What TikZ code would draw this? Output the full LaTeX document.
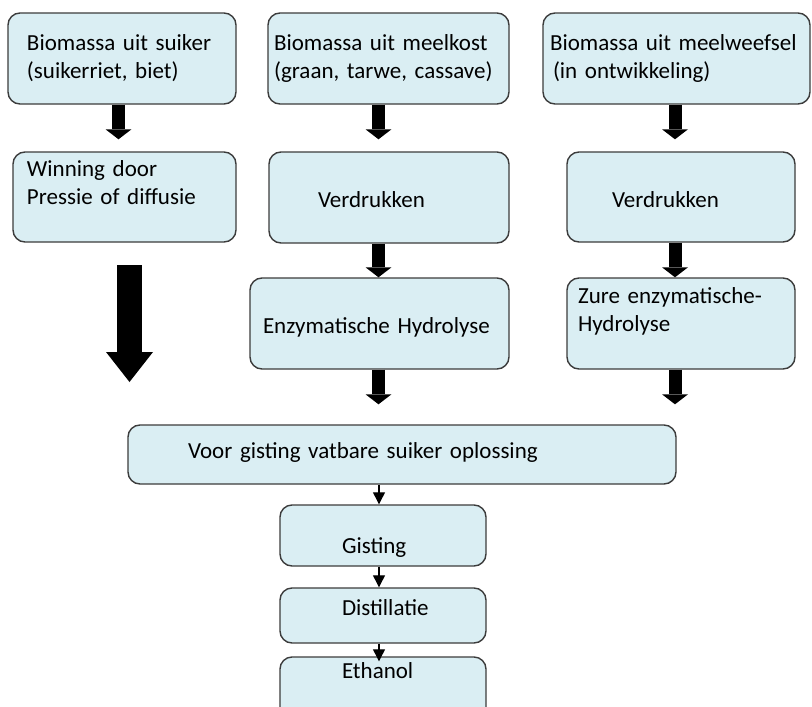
\documentclass[tikz,border=0pt]{standalone}
\usepackage{fontspec}
\setmainfont{Carlito}
\usepackage{xcolor}
\usetikzlibrary{arrows.meta, positioning}
\definecolor{boxfill}{HTML}{DAEEF3}
\definecolor{boxline}{HTML}{3C3C3C}
\newcommand{\boxfont}{\fontsize{23}{28}\selectfont}
\hyphenpenalty=10000
\exhyphenpenalty=10000

\begin{document}
\begin{tikzpicture}[x=1pt, y=-1pt,
            procbox/.style={ rectangle, draw=boxline, line width=1.4pt, fill=boxfill, rounded corners=12pt, align=left, inner ysep=0pt, font=\boxfont },
            blockarrow/.style={ line width=13pt, -{Triangle[length=10pt, width=26pt, line width=0pt]} },
            bigarrow/.style={ line width=25pt, -{Triangle[length=30pt, width=47pt, line width=0pt]} },
            thinarrow/.style={ line width=1.2pt, -{Triangle[length=12pt, width=12pt]} }
        ]
            \useasboundingbox (0,0) rectangle (812,707);

            % Column axes for the arrows
            \coordinate (col1) at (118.5,0);
            \coordinate (col2) at (378.5,0);
            \coordinate (col3) at (675,0);
            \coordinate (spine) at (379,0);

            % Sugar column
            \node (suiker) [procbox, minimum width=228pt, minimum height=91pt, text width=190pt, inner xsep=19pt] at (122,58.5) {Biomassa uit suiker\\(suikerriet, biet)};
            \node (winning) [procbox, minimum width=223pt, minimum height=90pt, text width=195pt, inner xsep=14pt] at (124.5,197) {Winning door\\Pressie of diffusie\\\mbox{}};

            % Starch column
            \node (meelkost) [procbox, minimum width=241pt, minimum height=91pt, text width=229pt, inner xsep=6pt] at (388.5,58.5) {Biomassa uit meelkost\\(graan, tarwe, cassave)};
            \node (verdrukA) [procbox, minimum width=240pt, minimum height=91pt, text width=142pt, inner xsep=49pt, text height=19pt, text depth=0pt] at (389,197.5) {Verdrukken};
            \node (enzym) [procbox, minimum width=259pt, minimum height=91pt, text width=233pt, inner xsep=13pt, text height=19pt, text depth=0pt] at (379.5,323.5) {Enzymatische Hydrolyse};

            % Tissue column
            \node (meelweefsel) [procbox, minimum width=267pt, minimum height=91pt, text width=253pt, inner xsep=7pt] at (676.5,58.5) {Biomassa uit meelweefsel\\\hspace*{3pt}(in ontwikkeling)};
            \node (verdrukB) [procbox, minimum width=228pt, minimum height=90pt, text width=138pt, inner xsep=45pt, text height=20pt, text depth=0pt] at (681,197) {Verdrukken};
            \node (zuur) [procbox, minimum width=228pt, minimum height=91pt, text width=206pt, inner xsep=11pt] at (681,323.5) {Zure enzymatische-\\Hydrolyse\\\mbox{}};

            % Common chain
            \node (oplossing) [procbox, minimum width=548pt, minimum height=59pt, text width=428pt, inner xsep=60pt, text height=16pt, text depth=9pt] at (402,454.5) {Voor gisting vatbare suiker oplossing};
            \node (gisting) [procbox, minimum width=206pt, minimum height=61pt, text width=82pt, inner xsep=62pt, text height=35pt, text depth=0pt] at (383,535.5) {Gisting};
            \node (distillatie) [procbox, minimum width=206pt, minimum height=55pt, text width=82pt, inner xsep=62pt, text height=16pt, text depth=17pt] at (383,615.5) {Distillatie};
            \node (ethanol) [procbox, minimum width=206pt, minimum height=68pt, text width=82pt, inner xsep=62pt, text height=16pt, text depth=42pt] at (383,691) {Ethanol};

            % Block arrows
            \draw[blockarrow, shorten >=12pt] (suiker.south -| col1) -- (winning.north -| col1);
            \draw[blockarrow, shorten >=12pt] (meelkost.south -| col2) -- (verdrukA.north -| col2);
            \draw[blockarrow] (verdrukA.south -| col2) -- (enzym.north -| col2);
            \draw[blockarrow, shorten >=20pt] (enzym.south -| col2) -- (oplossing.north -| col2);
            \draw[blockarrow, shorten >=12pt] (meelweefsel.south -| col3) -- (verdrukB.north -| col3);
            \draw[blockarrow] (verdrukB.south -| col3) -- (zuur.north -| col3);
            \draw[blockarrow, shorten >=20pt] (zuur.south -| col3) -- (oplossing.north -| col3);

            % Big arrow under the sugar column
            \coordinate (bigtop) at (129.5,265);
            \coordinate (bigtip) at (129.5,382);
            \draw[bigarrow] (bigtop) -- (bigtip);

            % Thin arrows
            \draw[thinarrow] (oplossing.south -| spine) -- (gisting.north -| spine);
            \draw[thinarrow] (gisting.south -| spine) -- (distillatie.north -| spine);
            \draw[thinarrow, shorten >=-5pt] (distillatie.south -| spine) -- (ethanol.north -| spine);

        \end{tikzpicture}
\end{document}
